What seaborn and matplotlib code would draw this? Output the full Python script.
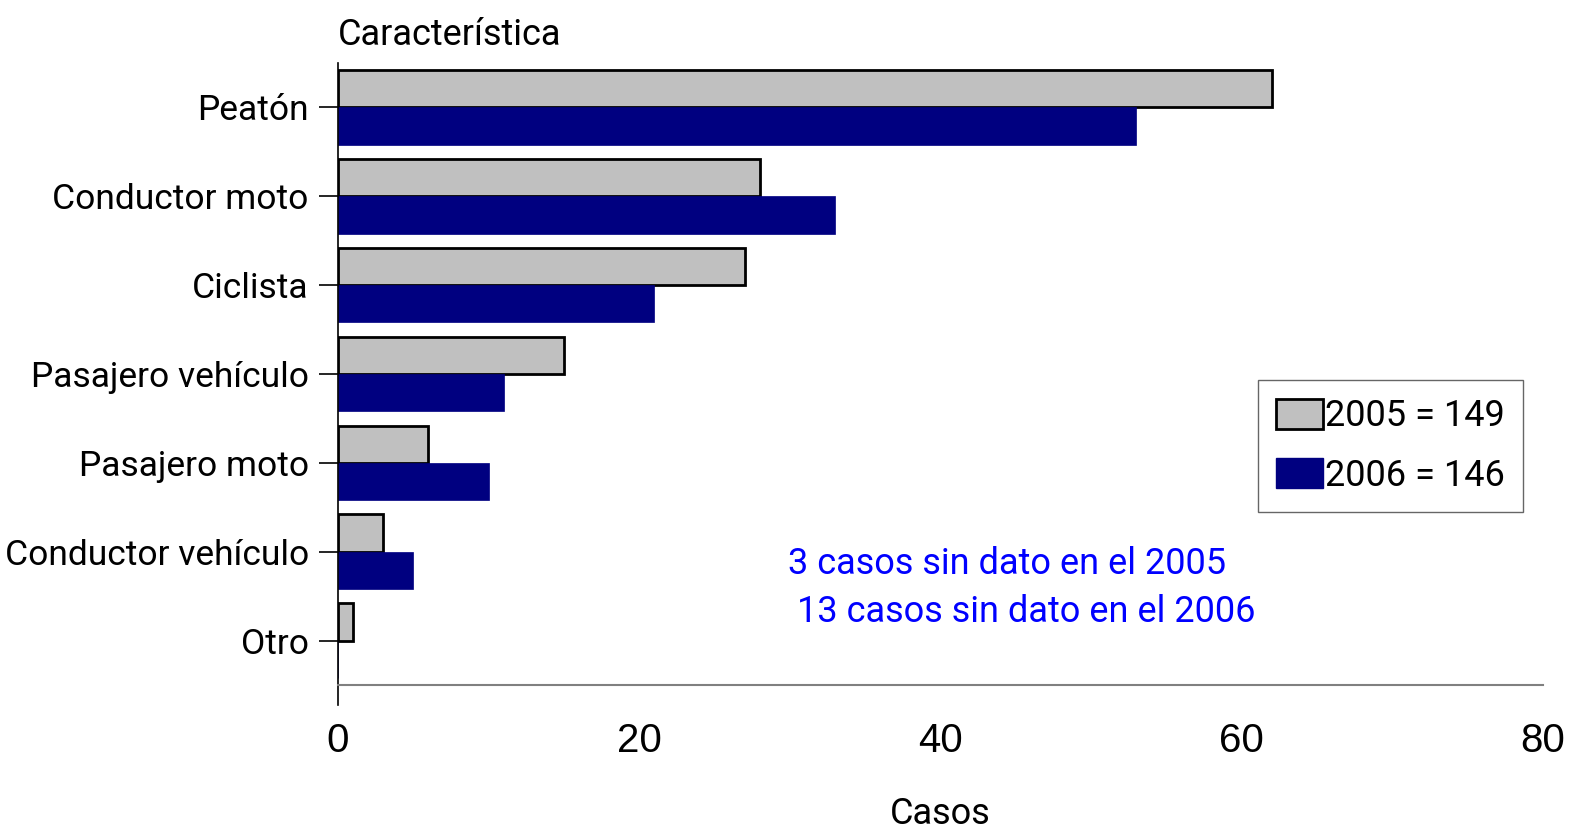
import pandas as pd
import seaborn as sns
from matplotlib import pyplot as plt
from matplotlib.patches import Patch

categorias = ["Peatón", "Conductor moto", "Ciclista", "Pasajero vehículo",
              "Pasajero moto", "Conductor vehículo", "Otro"]
casos_2005 = [62, 28, 27, 15, 6, 3, 1]
casos_2006 = [53, 33, 21, 11, 10, 5, 0]
anios = ["2005", "2006"]
etiquetas_leyenda = ["2005 = 149", "2006 = 146"]
colores = ["#c0c0c0", "#000080"]
nota = "3 casos sin dato en el 2005\n 13 casos sin dato en el 2006"

# no narrow face available: Roboto is the closest condensed-looking one
NARROW = ["Roboto", "DejaVu Sans"]
REGULAR = ["Liberation Sans", "DejaVu Sans"]

df = pd.DataFrame({
    "categoria": categorias * 2,
    "casos": casos_2005 + casos_2006,
    "anio": [anios[0]] * len(categorias) + [anios[1]] * len(categorias),
})

sns.set_style("white")
plt.rcParams["font.family"] = NARROW
plt.rcParams["text.color"] = "black"
plt.rcParams["xtick.labelcolor"] = "black"
plt.rcParams["ytick.labelcolor"] = "black"
plt.rcParams["axes.labelcolor"] = "black"

fig = plt.figure(figsize=(15.76, 8.34), dpi=100)
ax = fig.add_axes([338 / 1576, 1 - 685 / 834, (1543 - 338) / 1576, (685 - 63) / 834])

sns.barplot(data=df, y="categoria", x="casos", hue="anio", orient="h",
            palette=colores, width=0.84, ax=ax, legend=False, saturation=1)

n = len(categorias)
for i, patch in enumerate(ax.patches[:2 * n]):
    if i < n:
        patch.set_edgecolor("black")
        patch.set_linewidth(2)
    else:
        patch.set_edgecolor(colores[1])
        patch.set_linewidth(0.5)

ax.set_xlim(0, 80)
ax.set_ylim(n - 0.5, -0.5)
ax.set_xticks([0, 20, 40, 60, 80])

ax.spines["top"].set_visible(False)
ax.spines["right"].set_visible(False)
ax.spines["left"].set_color("black")
ax.spines["left"].set_linewidth(1.2)
ax.spines["left"].set_bounds(n - 0.5 + 0.22, -0.5)
ax.spines["bottom"].set_color("#808080")
ax.spines["bottom"].set_linewidth(1.5)

ax.tick_params(axis="x", direction="inout", length=26, width=1.2,
               color="#808080", pad=14, labelsize=29)
ax.tick_params(axis="y", direction="out", length=14, width=1.2,
               color="black", pad=7, labelsize=25.5, left=True)
for lbl in ax.get_xticklabels():
    lbl.set_fontfamily(REGULAR)

ax.set_xlabel("")
ax.set_ylabel("")
fig.text(940 / 1576, 1 - 824 / 834, "Casos", fontsize=26,
         ha="center", va="baseline")
fig.text(338 / 1576, 1 - 45 / 834, "Característica", fontsize=26,
         ha="left", va="baseline")

handles = [Patch(facecolor=colores[0], edgecolor="black", linewidth=2),
           Patch(facecolor=colores[1], edgecolor=colores[1])]
leg = ax.legend(handles, etiquetas_leyenda, loc="upper left",
                bbox_to_anchor=((1258 - 338) / 1205, (685 - 380) / 622),
                fontsize=26, frameon=True, fancybox=False, handlelength=1.3,
                handleheight=0.9, handletextpad=0.05, borderpad=0.5,
                labelspacing=0.65, borderaxespad=0)
leg.get_frame().set_edgecolor("#404040")
leg.get_frame().set_linewidth(1)

ax.text(29.9, 5.41, nota, color="#0000ff", fontsize=26, ha="left",
        va="center", linespacing=1.45)

fig.savefig("out.png", dpi=100)
